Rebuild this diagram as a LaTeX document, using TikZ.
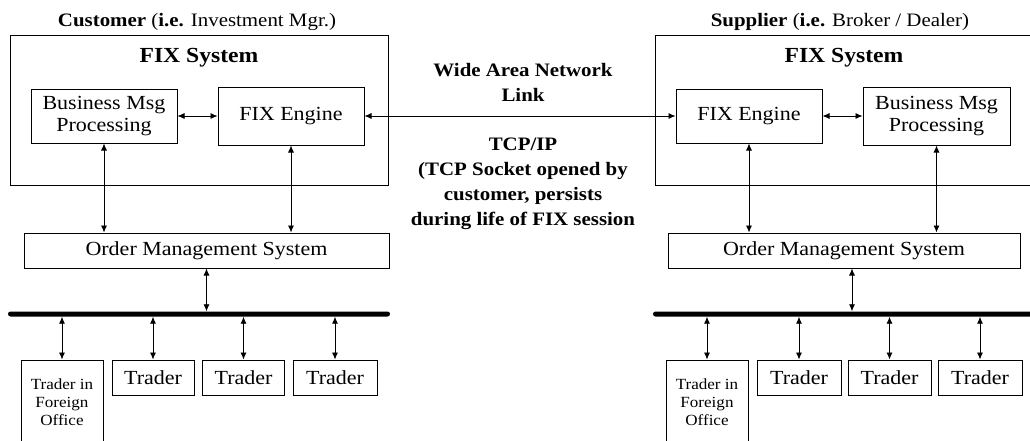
\documentclass[tikz,border=0pt]{standalone}
\usepackage{fontspec}
\setmainfont{Liberation Serif}[FakeStretch=1.1]
\usetikzlibrary{arrows.meta}
\tikzset{box/.style = {draw, rectangle, line width=1pt, inner sep=0, align=center,
                       font=\fontsize{20}{22}\selectfont}}
\tikzset{small/.style = {box, font=\fontsize{15.5}{18}\selectfont}}
\tikzset{title/.style = {anchor=base, inner sep=0, align=center,
                         font=\fontsize{19}{25}\selectfont}}
\tikzset{link/.style = {line width=0.8pt, >={Latex[length=7pt, width=6pt]}, <->}}
\tikzset{bus/.style = {fill, rectangle, rounded corners=2.5pt, inner sep=0, minimum height=5pt}}

\begin{document}
\begin{tikzpicture}[x=1pt, y=-1pt]
      \useasboundingbox (0, 0) rectangle (1030, 440);
      \clip (0, 0) rectangle (1030, 440);
      % customer side
      \node [title] (ctitle) at (197, 26) {\textbf{Customer} (\textbf{i.e.} Investment Mgr.)};
      \node [box, minimum width=378pt, minimum height=150pt] (cbox) at (199, 110) {};
      \node [title, font=\fontsize{21.5}{25}\selectfont] (cfix) at (199, 62) {\textbf{FIX System}};
      \node [box, minimum width=146pt, minimum height=54pt] (cbiz) at (104, 116) {Business Msg\\Processing};
      \node [box, minimum width=146pt, minimum height=58pt] (ceng) at (291, 116) {FIX Engine};
      \node [box, minimum width=365pt, minimum height=35pt] (coms) at (206.5, 250.5) {Order Management System};
      \node [bus, minimum width=382pt] (cbus) at (199, 314) {};
      \node [small, minimum width=82pt, minimum height=84pt] (cfor) at (62, 402) {Trader in\\Foreign\\Office};
      \node [box, minimum width=82pt, minimum height=35pt] (ctr1) at (153, 377.5) {Trader};
      \node [box, minimum width=82pt, minimum height=35pt] (ctr2) at (243.5, 377.5) {Trader};
      \node [box, minimum width=84pt, minimum height=35pt] (ctr3) at (335, 377.5) {Trader};
      \draw [link] (cbiz) -- (ceng);
      \draw [link] (cbiz.south) -- (cbiz.south |- coms.north);
      \draw [link] (ceng.south) -- (ceng.south |- coms.north);
      \draw [link] (coms.south) -- (coms.south |- cbus.north);
      \draw [link] (cbus.south -| cfor.north) -- (cfor.north);
      \draw [link] (cbus.south -| ctr1.north) -- (ctr1.north);
      \draw [link] (cbus.south -| ctr2.north) -- (ctr2.north);
      \draw [link] (cbus.south -| ctr3.north) -- (ctr3.north);
      % supplier side
      \node [title] (stitle) at (840, 26) {\textbf{Supplier} (\textbf{i.e.} Broker / Dealer)};
      \node [box, minimum width=385pt, minimum height=150pt] (sbox) at (847.5, 110) {};
      \node [title, font=\fontsize{21.5}{25}\selectfont] (sfix) at (844, 62) {\textbf{FIX System}};
      \node [box, minimum width=146pt, minimum height=54pt] (seng) at (749, 116) {FIX Engine};
      \node [box, minimum width=147pt, minimum height=58pt] (sbiz) at (936.5, 116) {Business Msg\\Processing};
      \node [box, minimum width=352pt, minimum height=35pt] (soms) at (844, 250.5) {Order Management System};
      \node [bus, minimum width=390pt] (sbus) at (848, 314) {};
      \node [small, minimum width=82pt, minimum height=84pt] (sfor) at (707, 402) {Trader in\\Foreign\\Office};
      \node [box, minimum width=84pt, minimum height=35pt] (str1) at (799, 377.5) {Trader};
      \node [box, minimum width=83pt, minimum height=35pt] (str2) at (889.5, 377.5) {Trader};
      \node [box, minimum width=84pt, minimum height=35pt] (str3) at (980, 377.5) {Trader};
      \draw [link] (seng) -- (sbiz);
      \draw [link] (seng.south) -- (seng.south |- soms.north);
      \draw [link] (sbiz.south) -- (sbiz.south |- soms.north);
      \draw [link] ([xshift=8pt]soms.south) -- ([xshift=8pt]soms.south |- sbus.north);
      \draw [link] (sbus.south -| sfor.north) -- (sfor.north);
      \draw [link] (sbus.south -| str1.north) -- (str1.north);
      \draw [link] (sbus.south -| str2.north) -- (str2.north);
      \draw [link] (sbus.south -| str3.north) -- (str3.north);
      % network link
      \draw [link] (ceng) -- (seng);
      \node [title] (wan) at (523, 101.5) {\textbf{Wide Area Network}\\\textbf{Link}};
      \node [title] (tcp) at (523, 225) {\textbf{TCP/IP}\\\textbf{(TCP Socket opened by}\\\textbf{customer, persists}\\\textbf{during life of FIX session}};
    \end{tikzpicture}
\end{document}
